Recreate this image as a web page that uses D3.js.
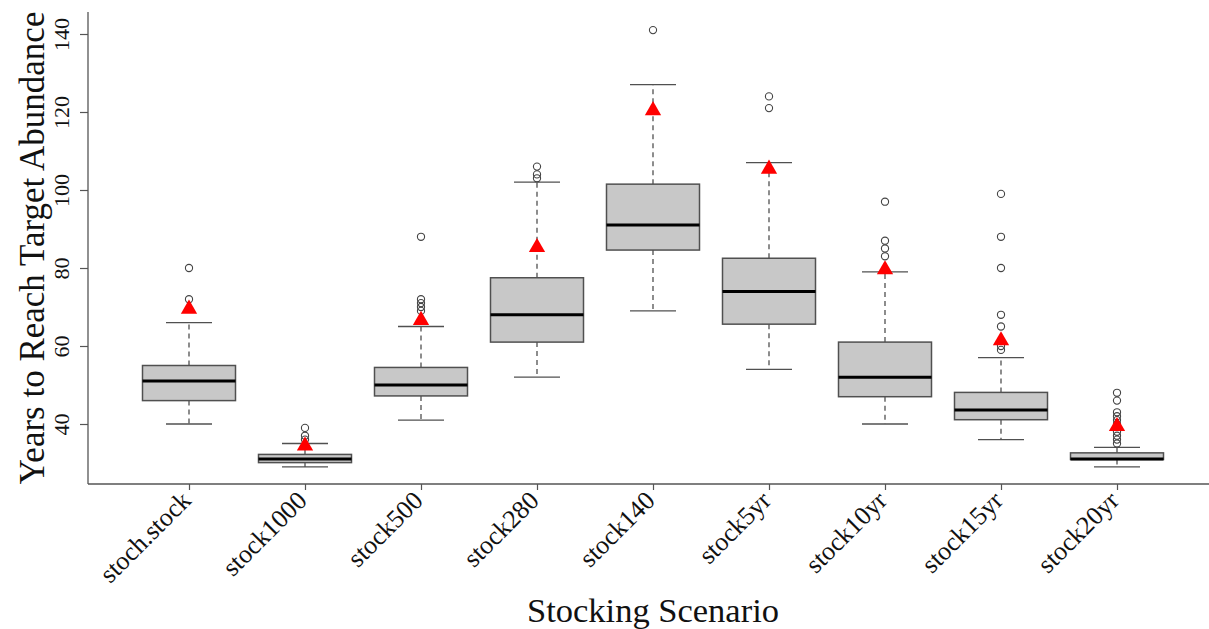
<!DOCTYPE html>
<html><head><meta charset="utf-8">
<script src="https://cdn.jsdelivr.net/npm/d3@7/dist/d3.min.js"></script>
<style>body{margin:0;background:#fff}svg{display:block}</style>
</head><body><svg id="c" width="1209" height="629"></svg>
<script>
const categories = ["stoch.stock","stock1000","stock500","stock280","stock140","stock5yr","stock10yr","stock15yr","stock20yr"];
const lowerWhisker = [40, 29, 41, 52, 69, 54, 40, 36, 29];
const q1           = [46, 30.1, 47.2, 61, 84.6, 65.6, 47, 41.1, 30.9];
const medians      = [51, 31, 50, 68, 91, 74, 52, 43.6, 31];
const q3           = [55, 32.2, 54.5, 77.5, 101.5, 82.5, 61, 48.1, 32.6];
const upperWhisker = [66, 35, 65, 102, 127, 107, 79, 57, 34];
const means        = [69.5, 34.4, 66.6, 85.3, 120.4, 105.4, 79.6, 61.4, 39.4];
const outliers = [
  [72, 80],
  [36, 37, 39],
  [69, 70, 71, 72, 88],
  [103, 104, 106],
  [141],
  [121, 124],
  [83, 85, 87, 97],
  [59, 60, 65, 68, 80, 88, 99],
  [35, 36, 37, 38, 40, 41, 42, 43, 46, 48]
];
const yTicks = [40, 60, 80, 100, 120, 140];

const svg = d3.select("#c");
const x = d3.scalePoint().domain(categories).range([189, 1117]);
const y = d3.scaleLinear().domain([40, 140]).range([424, 34]);
const yMin = y.invert(484), yMax = y.invert(12);
const boxW = 93, capW = 46;
const font = "'Liberation Serif','Times New Roman',serif";

// frame (L shaped)
svg.append("line").attr("x1", 88).attr("x2", 88).attr("y1", y(yMax)).attr("y2", y(yMin)).attr("stroke", "#555").attr("stroke-width", 1.3);
svg.append("line").attr("x1", 88).attr("x2", 1209).attr("y1", y(yMin)).attr("y2", y(yMin)).attr("stroke", "#555").attr("stroke-width", 1.3);

// y axis
const yAxis = svg.append("g").attr("transform", "translate(88,0)")
  .call(d3.axisLeft(y).tickValues(yTicks).tickSize(8).tickPadding(0).tickFormat(d3.format("d")));
yAxis.select(".domain").remove();
yAxis.selectAll(".tick line").attr("stroke", "#555").attr("stroke-width", 1.2);
yAxis.selectAll(".tick text")
  .attr("x", 0).attr("y", 0).attr("dy", 0)
  .attr("transform", "translate(-19,0) rotate(-90)")
  .attr("text-anchor", "middle")
  .style("font-family", font).style("font-size", "22px").attr("fill", "#111");

// x axis
const xAxis = svg.append("g").attr("transform", `translate(0,${y(yMin)})`)
  .call(d3.axisBottom(x).tickSize(6).tickFormat(d => d));
xAxis.select(".domain").remove();
xAxis.selectAll(".tick line").attr("stroke", "#555").attr("stroke-width", 1.2);
xAxis.selectAll(".tick text")
  .attr("x", 0).attr("y", 0).attr("dy", 0)
  .attr("transform", "translate(3,18) rotate(-45)")
  .attr("text-anchor", "end")
  .style("font-family", font).style("font-size", "26px").attr("fill", "#111");

// boxes
const g = svg.append("g");
categories.forEach((c, i) => {
  const cx = x(c);
  const stroke = "#505050";
  g.append("line").attr("x1", cx).attr("x2", cx).attr("y1", y(q3[i])).attr("y2", y(upperWhisker[i]))
    .attr("stroke", stroke).attr("stroke-width", 1.3).attr("stroke-dasharray", "5,4");
  g.append("line").attr("x1", cx).attr("x2", cx).attr("y1", y(q1[i])).attr("y2", y(lowerWhisker[i]))
    .attr("stroke", stroke).attr("stroke-width", 1.3).attr("stroke-dasharray", "5,4");
  [upperWhisker[i], lowerWhisker[i]].forEach(v => {
    g.append("line").attr("x1", cx - capW / 2).attr("x2", cx + capW / 2).attr("y1", y(v)).attr("y2", y(v))
      .attr("stroke", stroke).attr("stroke-width", 1.3);
  });
  g.append("rect").attr("x", cx - boxW / 2).attr("width", boxW)
    .attr("y", y(q3[i])).attr("height", y(q1[i]) - y(q3[i]))
    .attr("fill", "#c8c8c8").attr("stroke", stroke).attr("stroke-width", 1.5);
  g.append("line").attr("x1", cx - boxW / 2).attr("x2", cx + boxW / 2).attr("y1", y(medians[i])).attr("y2", y(medians[i]))
    .attr("stroke", "#000").attr("stroke-width", 3);
  outliers[i].forEach(v => {
    g.append("circle").attr("cx", cx).attr("cy", y(v)).attr("r", 3.6)
      .attr("fill", "none").attr("stroke", "#444").attr("stroke-width", 1.1);
  });
});

// means (red triangles)
const tri = d3.symbol().type(d3.symbolTriangle).size(115);
svg.append("g").selectAll("path").data(categories).join("path")
  .attr("d", tri)
  .attr("transform", (d, i) => `translate(${x(d)},${y(means[i])})`)
  .attr("fill", "#ff0000");

// axis titles
svg.append("text").attr("x", 653).attr("y", 622).attr("text-anchor", "middle")
  .style("font-family", font).style("font-size", "34.5px").attr("fill", "#111").text("Stocking Scenario");
svg.append("text").attr("transform", "translate(44,248) rotate(-90)").attr("text-anchor", "middle")
  .style("font-family", font).style("font-size", "35px").attr("fill", "#111").text("Years to Reach Target Abundance");
</script></body></html>
